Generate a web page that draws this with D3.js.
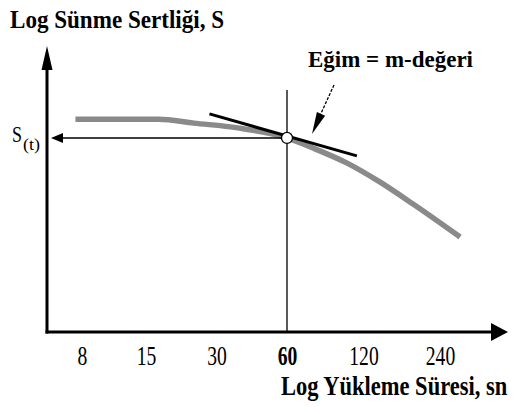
<!DOCTYPE html>
<html>
<head>
<meta charset="utf-8">
<script src="https://cdn.jsdelivr.net/npm/d3@7"></script>
<style>
  body { margin: 0; background: #fff; overflow: hidden; }
  svg { display: block; }
  text { font-family: "Liberation Serif", "Times New Roman", serif; fill: #000; }
</style>
</head>
<body>
<div id="vis"></div>
<script>
// creep stiffness vs loading time (log-log sketch)
var tickValues = [8, 15, 30, 60, 120, 240];
var tickLabels = ["8", "15", "30", "60", "120", "240"];

// grey master curve: loading time (s) and log stiffness (arbitrary units)
var curveTime = [7.5, 17, 24, 37, 60, 76, 103, 139, 188, 288];
var curveLogS = [76, 76, 74.6, 72.9, 69.3, 65.7, 60.4, 53.6, 45.7, 33.9];

// tangent (slope = m-value) at t = 60 s
var tangentTime = [28, 113];
var tangentLogS = [77.9, 62.9];
var pointTime = 60;
var pointLogS = 69.3;

var width = 515, height = 407;

var svg = d3.select("#vis").append("svg")
  .attr("width", width)
  .attr("height", height);

// plot frame
var originX = 47, originY = 332, axisTop = 46, axisRight = 508;

// the tick labels are not quite evenly spaced, so use a polylinear log scale
var x = d3.scaleLog()
  .domain([8, 60, 240])
  .range([82, 287, 440]);

var y = d3.scaleLinear()
  .domain([0, 100])
  .range([originY, 52]);

function arrowHead(tip, from, len, half) {
  var dx = tip[0] - from[0], dy = tip[1] - from[1];
  var d = Math.sqrt(dx * dx + dy * dy);
  var ux = dx / d, uy = dy / d;
  var bx = tip[0] - ux * len, by = tip[1] - uy * len;
  return "M" + tip[0] + "," + tip[1] +
    "L" + (bx - uy * half) + "," + (by + ux * half) +
    "L" + (bx + uy * half) + "," + (by - ux * half) + "Z";
}

// grey curve
var line = d3.line()
  .x(function(d) { return x(d[0]); })
  .y(function(d) { return y(d[1]); })
  .curve(d3.curveMonotoneX);

svg.append("path")
  .datum(d3.zip(curveTime, curveLogS))
  .attr("d", line)
  .attr("fill", "none")
  .attr("stroke", "#8a8a8a")
  .attr("stroke-width", 5.5);

// vertical line at 60 s
svg.append("line")
  .attr("x1", x(pointTime)).attr("x2", x(pointTime))
  .attr("y1", 90).attr("y2", originY)
  .attr("stroke", "#000")
  .attr("stroke-width", 1.3);

// horizontal line to S(t) with arrow
var py = y(pointLogS);
svg.append("line")
  .attr("x1", x(pointTime)).attr("x2", 58)
  .attr("y1", py).attr("y2", py)
  .attr("stroke", "#000")
  .attr("stroke-width", 1.5);
svg.append("path")
  .attr("d", arrowHead([51, py], [x(pointTime), py], 12, 5))
  .attr("fill", "#000");

// tangent line
svg.append("line")
  .attr("x1", x(tangentTime[0])).attr("y1", y(tangentLogS[0]))
  .attr("x2", x(tangentTime[1])).attr("y2", y(tangentLogS[1]))
  .attr("stroke", "#000")
  .attr("stroke-width", 3);

// tangent point
svg.append("circle")
  .attr("cx", x(pointTime))
  .attr("cy", py)
  .attr("r", 5.5)
  .attr("fill", "#fff")
  .attr("stroke", "#000")
  .attr("stroke-width", 1.3);

// annotation arrow
var annFrom = [334, 85], annTip = [312, 134];
svg.append("line")
  .attr("x1", annFrom[0]).attr("y1", annFrom[1])
  .attr("x2", 318).attr("y2", 120)
  .attr("stroke", "#000")
  .attr("stroke-width", 1.3)
  .attr("stroke-dasharray", "3,1.5");
svg.append("path")
  .attr("d", arrowHead(annTip, annFrom, 22, 4.5))
  .attr("fill", "#000");

// axes
svg.append("line")
  .attr("x1", originX).attr("x2", originX)
  .attr("y1", originY + 1.5).attr("y2", axisTop + 10)
  .attr("stroke", "#000")
  .attr("stroke-width", 3);
svg.append("path")
  .attr("d", arrowHead([originX, axisTop], [originX, originY], 24, 5.5))
  .attr("fill", "#000");

svg.append("line")
  .attr("x1", originX - 1.5).attr("x2", axisRight - 10)
  .attr("y1", originY).attr("y2", originY)
  .attr("stroke", "#000")
  .attr("stroke-width", 3);
svg.append("path")
  .attr("d", arrowHead([axisRight, originY], [originX, originY], 17, 9))
  .attr("fill", "#000");

// tick labels
var xAxis = d3.axisBottom(x)
  .tickValues(tickValues)
  .tickSize(0)
  .tickPadding(0)
  .tickFormat(function(d, i) { return tickLabels[i]; });

var gx = svg.append("g")
  .attr("transform", "translate(0," + originY + ")")
  .call(xAxis);
gx.select(".domain").remove();
gx.selectAll("text")
  .attr("dy", null)
  .attr("y", 33)
  .attr("font-family", "Liberation Serif")
  .attr("font-size", 28)
  .attr("font-weight", function(d) { return d === 60 ? "bold" : "normal"; })
  .attr("textLength", function(d, i) { return tickLabels[i].length * 9.8; })
  .attr("lengthAdjust", "spacingAndGlyphs")
  .style("fill", "#000");

// titles
svg.append("text")
  .attr("x", 10).attr("y", 28)
  .attr("font-size", 26)
  .attr("font-weight", "bold")
  .attr("textLength", 214)
  .attr("lengthAdjust", "spacingAndGlyphs")
  .text("Log Sünme Sertliği, S");

svg.append("text")
  .attr("transform", "translate(281,395) scale(1,1.2)")
  .attr("font-size", 22.5)
  .attr("font-weight", "bold")
  .text("Log Yükleme Süresi, sn");

svg.append("text")
  .attr("x", 308).attr("y", 67)
  .attr("font-size", 23)
  .attr("font-weight", "bold")
  .attr("textLength", 165)
  .attr("lengthAdjust", "spacingAndGlyphs")
  .text("Eğim = m-değeri");

// S(t)
svg.append("text")
  .attr("x", 12).attr("y", 142)
  .attr("font-size", 23)
  .attr("textLength", 10)
  .attr("lengthAdjust", "spacingAndGlyphs")
  .text("S");
svg.append("text")
  .attr("x", 23).attr("y", 150)
  .attr("font-size", 16)
  .attr("textLength", 17)
  .attr("lengthAdjust", "spacingAndGlyphs")
  .text("(t)");
</script>
</body>
</html>
